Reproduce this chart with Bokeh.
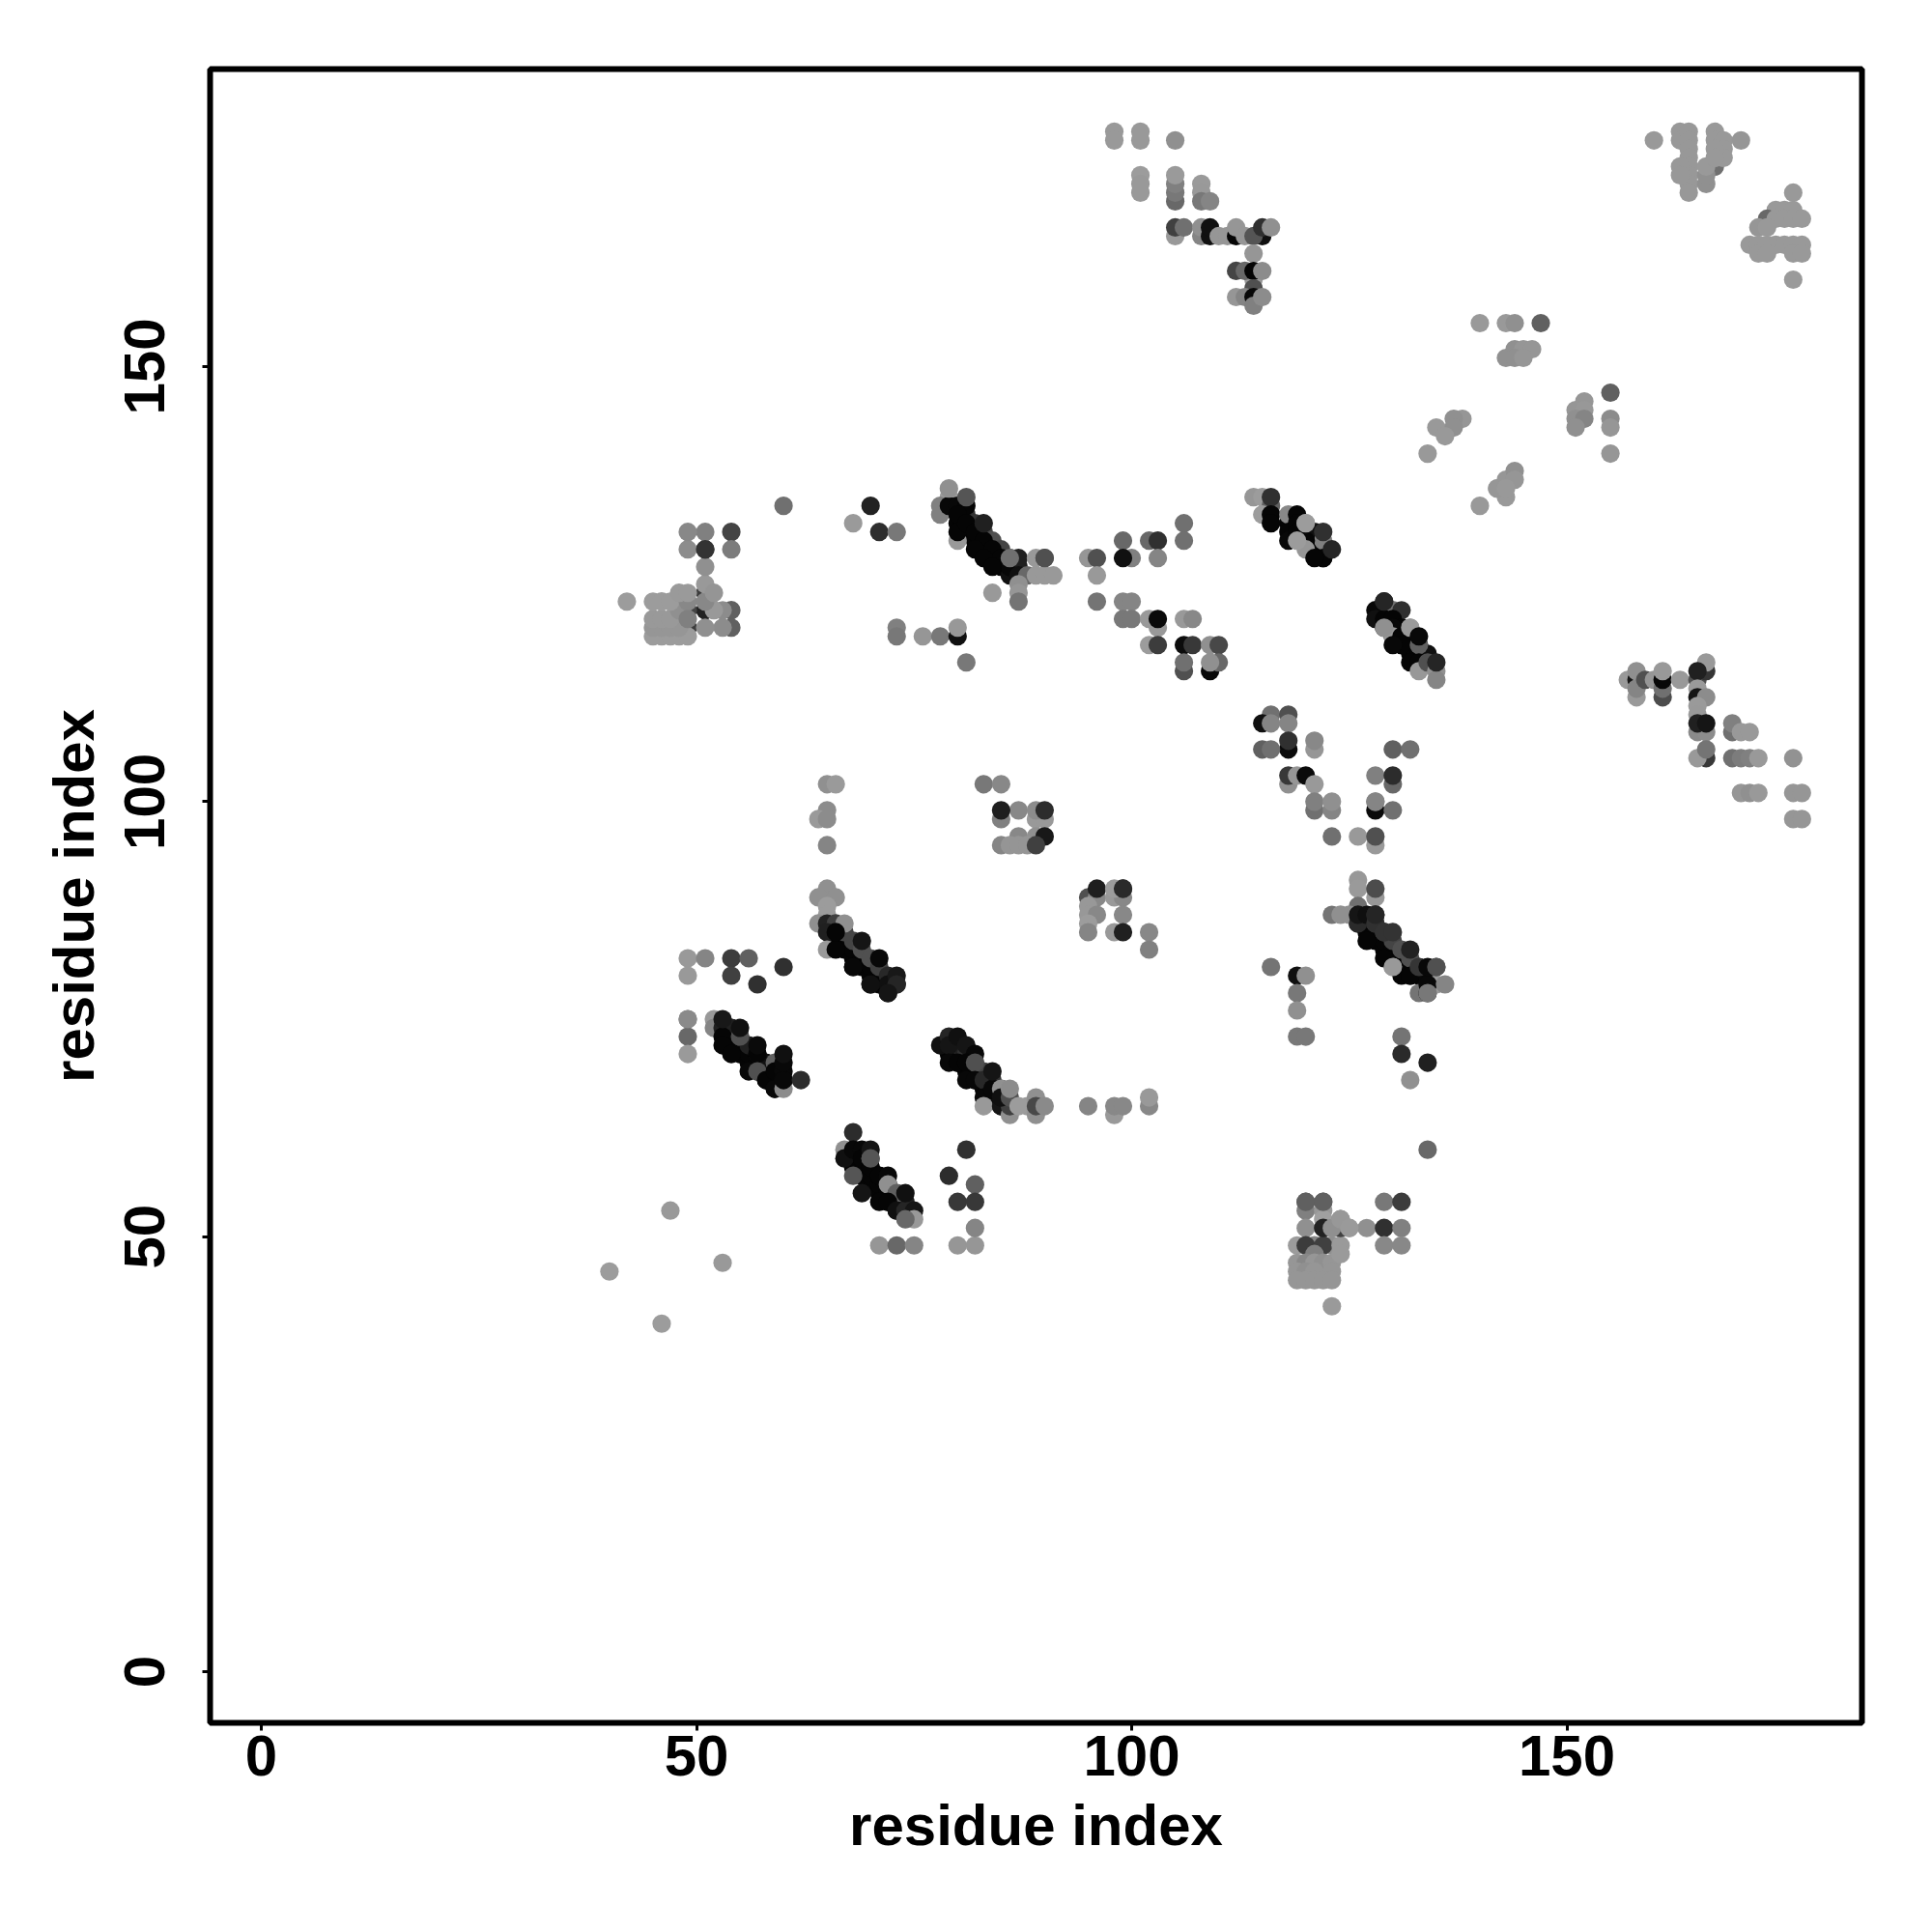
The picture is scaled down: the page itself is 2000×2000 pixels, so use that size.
from bokeh.plotting import figure
from bokeh.models import ColumnDataSource, FixedTicker, Range1d
from bokeh.embed import file_html
from bokeh.resources import INLINE

x_label = "residue index"
y_label = "residue index"
tick_values = [0, 50, 100, 150]

# Each block: residue i, residue j, grey level (0 black - 255 white), in drawing order
# Helix cores
he_x = [66,67,68,69,70,71,72, 66,67,68,69,70,71,72, 67,68,69,70,71,72,73]
he_y = [84,83,82,81,80,79,78, 85,84,83,82,81,80,79, 85,84,83,82,81,80,79]
he_g = [5,5,5,5,5,5,5, 5,5,5,5,5,5,5, 0x45,0x45,0x50,0x50,0x40,0x28,0x20]

hf_x = [54,55,56,57,58,59, 54,55,56,57,58,59, 54,55,56,57,58,59,60]
hf_y = [72,71,70,69,68,67, 73,72,71,70,69,68, 74,73,72,71,70,69,68]
hf_g = [5,5,5,5,5,5, 5,5,5,5,5,5, 0x20,0x30,0x20,0x10,0x10,0x10,0x08]

hi_x = [68,69,70,71,72,73, 68,69,70,71,72,73, 68,69,70,71,72,73,74]
hi_y = [58,57,56,55,54,53, 59,58,57,56,55,54, 60,59,58,57,56,55,54]
hi_g = [5,5,5,5,5,5, 5,5,5,5,5,5, 5,5,5,5,0x10,0x20,0x20]

hj_x = [79,80,81,82,83,84,85, 79,80,81,82,83,84,85, 80,81,82,83,84,85]
hj_y = [71,70,69,68,67,66,65, 72,71,70,69,68,67,66, 72,71,70,69,68,67]
hj_g = [5,5,5,5,5,5,5, 5,5,5,5,5,5,0x20, 0x20,0x30,0x45,0x45,0x35,0x30]

hc_x = [80,81,82,83,84,85,86, 80,81,82,83,84,85,86,87, 81,82,83,84,85,86,87]
hc_y = [132,131,130,129,128,127,126, 133,132,131,130,129,128,127,126, 133,132,131,130,129,128,127]
hc_g = [5,5,5,5,5,5,0x10, 5,5,5,5,5,5,5,5, 0x30,0x35,0x45,0x50,0x45,0x40,0x20]

hl_x = [126,127,128,129,130,131,132, 127,128,129,130,131,132,133, 127,128,129,130,131,132,133,134]
hl_y = [86,85,84,83,82,81,80, 86,85,84,83,82,81,80, 87,86,85,84,83,82,81,80]
hl_g = [5,5,5,5,5,5,5, 5,5,5,5,5,5,5, 0x15,0x40,0x35,0x45,0x50,0x50,0x40,0x08]

ho_x = [118,119,120,121,122, 119,120,121,122]
ho_y = [132,131,130,129,128, 132,131,130,129]
ho_g = [5,5,5,5,5, 5,5,5,5]

hq_x = [129,130,131,132, 130,131,132,133, 129,130,131,132,133, 134]
hq_y = [120,119,118,117, 120,119,118,117, 122,121,120,119,118, 117]
hq_g = [5,5,5,5, 5,5,5,5, 5,5,5,5,5, 0x10]

a_x = [51,51,49,49,54,54,53,53, 45,46,47,48,49, 45,46,47,48, 45,46,47, 48,52, 45,46,47, 42, 51,49,48,49,51,52,49,51,51, 51,49,51,54,49,51,54]
a_y = [122,124,122,120,122,120,122,120, 119,119,119,119,119, 120,120,120,120, 121,121,121, 122,122, 123,123,123, 123, 123,123,124,124,125,124,121,120,127, 129,129,131,131,131,129,129]
a_g = [0x22,0x3c,0x44,0x3c,0x60,0x60,0x8c,0x8c, 0x9c,0x9c,0x9c,0x9c,0x9c, 0x96,0x96,0x96,0x96, 0x99,0x99,0x99, 0x90,0x99, 0x9c,0x9c,0x9c, 0x9c, 0x88,0x88,0x9a,0x9a,0x99,0x95,0x80,0x90,0x90, 0x33,0x8c,0x80,0x44,0x88,0x33,0x7c]

b_x = [60,70,68,71,73, 73,73,76,78,80,80,81]
b_y = [134,134,132,131,131, 120,119,119,119,119,120,116]
b_g = [0x70,0x22,0x9a,0x2e,0x78, 0x80,0x78,0x96,0x78,0x10,0x98,0x78]

c_x = [80,79,78,78,79,80,81,81,80,80,81,82,83,84,85,86,82,83,84,87,86,87,88,89,90,89,90,91,84,87,87,87,83,79]
c_y = [130,135,134,133,134,134,134,135,133,131,132,131,130,129,128,127,129,128,127,128,128,126,126,128,128,126,126,126,124,125,124,123,132,136]
c_g = [0x99,0x9c,0x80,0x80,0x08,0x08,0x05,0x55,0x05,0x05,0x05,0x05,0x05,0x05,0x05,0x08,0x05,0x05,0x05,0x20,0x70,0x10,0x68,0x99,0x50,0x99,0x99,0x99,0x99,0x90,0x96,0x74,0x20,0x90]

d_x = [65,66,83,85,65,64,65,65, 85,87,89,90,85,89,90,87,89,90,85,86,87,88,89]
d_y = [102,102,102,102,99,98,98,95, 98,99,98,98,99,99,99,96,96,96,95,95,95,95,95]
d_g = [0x90,0x9a,0x78,0x88,0x8c,0x9a,0x8c,0x85, 0x80,0x88,0x99,0x99,0x1e,0x8c,0x2c,0x88,0x90,0x18,0x85,0x95,0x95,0x95,0x40]

e_x = [65,65,64,66,65,65,64,65,66,67,65,65,66,66,68,70,72,73,73,72,70,68,71,69]
e_y = [89,90,89,89,88,87,86,86,86,86,85,83,83,85,81,79,79,80,79,78,79,81,82,84]
e_g = [0x45,0x90,0x90,0x90,0x9c,0x9c,0x90,0x22,0x40,0x90,0x20,0x99,0x05,0x05,0x05,0x05,0x10,0x18,0x25,0x15,0x10,0x08,0x08,0x15]

f_x = [52,52,53,54,53,53,54,55,57,56,57,58,59,60,59,59,60,60,60,60,62,54,54,49,49,56,51,49,57,60,49,49,49]
f_y = [75,74,74,74,73,72,71,73,71,69,69,68,67,67,70,69,69,68,70,71,68,82,80,82,80,82,82,75,79,81,73,71,75]
f_g = [0x99,0x85,0x20,0x20,0x05,0x05,0x05,0x50,0x05,0x08,0x50,0x05,0x08,0x8c,0x60,0x05,0x08,0x08,0x08,0x10,0x2c,0x3c,0x40,0x99,0x99,0x60,0x85,0x8a,0x30,0x30,0x68,0x9a,0x8a]
g_x = [53,55,57]
g_y = [75,74,72]
g_g = [0x18,0x10,0x0a]

h_x = [47,53,46,40, 71,73,75,80,82,82,79,81,82,80,82]
h_y = [53,47,40,46, 49,49,49,49,49,51,57,60,56,54,54]
h_g = [0x99,0x99,0x9c,0x9c, 0x96,0x68,0x85,0x96,0x96,0x85,0x2c,0x30,0x60,0x38,0x38]

i_x = [67,67,68,68,69,69,70,70,68,69,71,72,72,73,71,72,73,74,74,75,75,74,70,70]
i_y = [60,59,62,60,60,59,59,58,57,55,57,57,56,55,54,54,53,53,55,53,52,52,60,59]
i_g = [0x90,0x10,0x2c,0x08,0x08,0x05,0x55,0x05,0x55,0x15,0x05,0x08,0x90,0x60,0x05,0x05,0x10,0x25,0x10,0x15,0x99,0x68,0x15,0x55]

j_x = [78,79,79,80,81,82,79,80,81,82,81,82,83,83,84,83,85,85,85,86,84,86,85,86,86,88,87,89,89,89,90, 95,98,98,99,102,102]
j_y = [72,73,72,73,72,71,70,70,70,70,68,68,68,66,67,65,65,66,67,64,69,65,66,66,67,65,65,66,64,65,65, 65,64,65,65,65,66]
j_g = [0x10,0x25,0x15,0x10,0x15,0x08,0x08,0x05,0x05,0x50,0x08,0x08,0x28,0x08,0x08,0x99,0x15,0x10,0x90,0x90,0x15,0x40,0x10,0x50,0x8c,0x9a,0x9c,0x90,0x90,0x48,0x8a, 0x85,0x99,0x88,0x88,0x88,0x99]

k_x = [95,96,98,99,95,95,96,99,95,95,98,99,102,102,96,99]
k_y = [89,89,89,89,88,87,87,87,86,85,85,85,85,83,90,90]
k_g = [0x50,0x88,0x99,0x88,0x98,0x98,0x88,0x88,0x9c,0x85,0x99,0x20,0x88,0x80,0x1e,0x2a]
k2_x = [98,116,119,120,119,119,119,120,131,131,134,132,134]
k2_y = [90,81,80,80,78,76,73,73,73,71,70,68,60]
k2_g = [0x9c,0x74,0x10,0x90,0x78,0x90,0x78,0x78,0x74,0x2a,0x20,0x90,0x68]
k3_x = [99]
k3_y = [90]
k3_g = [0x2a]

l_x = [126,126,128,128,126,123,124,125,126,126,127,128,127,130,129,131,132,133,134,135,130,133,134,134,136,135,134,129,128,128,129,130,132,135]
l_y = [91,90,89,90,88,87,87,87,86,87,87,87,84,81,82,80,80,78,78,79,81,81,79,78,79,81,81,85,86,87,85,85,83,81]
l_g = [0x98,0x9a,0x98,0x4c,0x70,0x74,0x90,0x90,0x2a,0x15,0x0f,0x25,0x05,0x99,0x05,0x05,0x05,0x74,0x08,0x99,0x99,0x35,0x08,0x78,0x85,0x50,0x08,0x33,0x30,0x25,0x33,0x33,0x22,0x50]

m_x = [120,122,120,122,122,124,120,123,125,119,121,123,122,124,120,121,119,120,121,122,123,119,120,121,123,119,120,121,122,123,120,122,124,124,123,124,129,131,127,129,131,129,131]
m_y = [54,54,53,53,52,52,51,51,51,49,49,49,49,49,49,48,47,47,47,47,47,46,46,46,46,45,45,45,45,45,54,54,48,52,51,51,54,54,51,51,51,49,49]
m_g = [0x60,0x60,0x80,0x98,0xa0,0x98,0x90,0x90,0x9a,0x9c,0x85,0x90,0x40,0x9a,0x3c,0x80,0x96,0x88,0x96,0x90,0x96,0x96,0x90,0x96,0x96,0x96,0x96,0x96,0x96,0x96,0x60,0x60,0x9a,0x98,0x90,0x40,0x78,0x3c,0x90,0x30,0x80,0x88,0x88]
m2_x = [122,123,124,125,123]
m2_y = [51,51,52,51,42]
m2_g = [0x22,0x90,0x98,0x9a,0x9a]

n_x = [90,95,96,99,100,99,102,103,103,106,106,96]
n_y = [128,128,128,130,128,128,130,130,128,132,130,126]
n_g = [0x50,0x96,0x50,0x68,0x80,0x10,0x68,0x30,0x85,0x70,0x70,0x99]
n2_x = [96,99,100,99,100,102,103,103,102,103,106,107,106,107,109,110,106,106,109,110,109]
n2_y = [123,123,123,121,121,121,120,121,118,118,121,121,118,118,118,118,115,116,115,116,116]
n2_g = [0x74,0x85,0x85,0x78,0x78,0x99,0x99,0x0a,0x9c,0x3c,0x99,0x88,0x0c,0x38,0x90,0x48,0x50,0x70,0x08,0x68,0x90]

o_x = [114,115,116,116,115,116,116,118,119,118,118,119,119,120,121,121,122,122,120,120,121,122,119,120,123]
o_y = [135,135,134,135,133,133,132,133,133,131,130,132,131,132,131,129,130,128,130,129,128,131,130,132,129]
o_g = [0x96,0x9c,0x60,0x30,0x9c,0x05,0x05,0x88,0x05,0x05,0x08,0x05,0x05,0x9c,0x10,0x05,0x80,0x05,0x05,0x96,0x05,0x30,0x9c,0x9c,0x25]

q_x = [128,129,130,131,128,129,130,131,132,130,130,131,131,130,129,133,132,133,133,134,135,135,135,132,133,129]
q_y = [122,123,122,122,121,121,121,120,120,120,119,119,118,118,120,118,116,116,115,116,115,114,116,120,119,123]
q_g = [0x08,0x25,0x70,0x30,0x10,0x05,0x05,0x05,0x9a,0x08,0x99,0x05,0x05,0x08,0x90,0x60,0x05,0x05,0x98,0x50,0x90,0x85,0x25,0x9a,0x08,0x25]

r_x = [116,118,115,116,118,118,118,115,116,121,121,130,132,118,118,119,120,121,121,121,123,123,123,126,128,128,128,130,128,130,128,128,130]
r_y = [110,110,109,109,109,106,107,106,106,106,107,106,106,102,103,103,103,102,99,100,99,100,96,96,95,96,99,102,103,103,100,100,99]
r_g = [0x70,0x50,0x10,0x85,0x85,0x0a,0x30,0x60,0x70,0x96,0x88,0x60,0x70,0x90,0x38,0x96,0x0a,0x99,0x70,0x80,0x85,0x90,0x70,0x99,0x99,0x50,0x0a,0x68,0x80,0x2c,0x85,0x85,0x70]

s_x = [157,158,158,158,158,159,160,161,161,161,161,163,165,166,166,165,165,165,166,165,165,165,166,165,166,166,165]
s_y = [114,114,112,113,115,114,114,112,113,114,115,114,114,115,116,115,113,112,112,111,110,108,108,109,109,105,105]
s_g = [0x99,0x15,0x99,0x85,0x90,0x50,0x96,0x4c,0x70,0x08,0x99,0x99,0x50,0x35,0x99,0x20,0x9a,0x15,0x8c,0x9a,0x99,0x8a,0x8c,0x20,0x15,0x38,0x99]
s2_x = [166,169,169,170,171,169,170,171,172,176,170,171,172,176,177,176,177]
s2_y = [106,108,109,108,108,105,105,105,105,105,101,101,101,101,101,98,98]
s2_g = [0x74,0x70,0x80,0x99,0x99,0x70,0x7c,0x80,0x99,0x92,0x96,0x90,0x99,0x96,0x96,0x96,0x96]

t_x = [98,98,101,101,105,101,101,101,105,105,105,105,108,108,108,109]
t_y = [177,176,177,176,176,172,171,170,169,170,171,172,171,170,169,169]
t_g = [0x99,0x99,0x99,0x99,0x90,0x9c,0x99,0x99,0x68,0x78,0x80,0x9a,0x9a,0x99,0x78,0x85]

u_x = [105,105,106,108,108,109,109,110,111,112,112,113,115,114,115,116,114]
u_y = [165,166,166,165,166,165,166,165,165,165,166,165,165,165,166,166,163]
u_g = [0x99,0x40,0x70,0x85,0x90,0x10,0x10,0x96,0x96,0x05,0x96,0x96,0x10,0x55,0x30,0x90,0x96]
v_x = [114,112,113,114,115,114,112,113,114,114,115]
v_y = [160,161,161,161,161,159,158,158,158,157,158]
v_g = [0x99,0x45,0x68,0x05,0x8c,0x50,0x96,0x85,0x08,0x80,0x8c]

w_x = [160,163,163,164,164,164,164,164,164,164,164,163,163,166,167,166,166,167,167,168,168,168,167,167,170]
w_y = [176,177,176,177,176,175,174,173,172,171,170,173,172,171,173,172,173,177,176,176,175,174,175,174,176]
w_g = [0x99,0x98,0x98,0x98,0x98,0x98,0x98,0x98,0x98,0x98,0x98,0x98,0x98,0x90,0x70,0x90,0x99,0x99,0x99,0x99,0x99,0x99,0x99,0x99,0x96]

y_x = [176,174,175,176,173,174,175,176,177,172,173,171,172,173,174,175,176,177,172,173,176,177,176]
y_y = [170,168,168,168,167,167,167,167,167,166,166,164,164,164,164,164,164,164,163,163,163,163,160]
y_g = [0x99,0x99,0x99,0x99,0x68,0x99,0x99,0x99,0x99,0x96,0x99,0x99,0x99,0x99,0x99,0x99,0x99,0x99,0x99,0x99,0x99,0x99,0x9a]

z_x = [140,143,144,147,144,145,146,143,144,145,138,137,135,137,136,134,152,151,152,151,152,151,155,155,155,155,140,143,142,143,144,144,142,143]
z_y = [155,155,155,155,152,152,152,151,151,151,144,144,143,143,142,140,146,145,145,144,144,143,147,144,143,140,134,135,136,137,138,137,136,136]
z_g = [0x99,0x99,0x90,0x60,0x90,0x96,0x96,0x90,0x90,0x96,0x96,0x90,0x99,0x90,0x99,0x99,0x96,0x96,0x98,0x90,0x85,0x90,0x60,0x8c,0x96,0x96,0x99,0x99,0x99,0x96,0x90,0x96,0x96,0x99]

blocks = [(he_x,he_y,he_g),(hf_x,hf_y,hf_g),(hi_x,hi_y,hi_g),(hj_x,hj_y,hj_g),(hc_x,hc_y,hc_g),(hl_x,hl_y,hl_g),
          (ho_x,ho_y,ho_g),(hq_x,hq_y,hq_g),
          (a_x,a_y,a_g),(b_x,b_y,b_g),(c_x,c_y,c_g),(d_x,d_y,d_g),(e_x,e_y,e_g),(f_x,f_y,f_g),(g_x,g_y,g_g),
          (h_x,h_y,h_g),(i_x,i_y,i_g),(j_x,j_y,j_g),(k_x,k_y,k_g),(k2_x,k2_y,k2_g),(k3_x,k3_y,k3_g),(l_x,l_y,l_g),
          (m_x,m_y,m_g),(m2_x,m2_y,m2_g),(n_x,n_y,n_g),(n2_x,n2_y,n2_g),(o_x,o_y,o_g),(q_x,q_y,q_g),(r_x,r_y,r_g),
          (s_x,s_y,s_g),(s2_x,s2_y,s2_g),(t_x,t_y,t_g),(u_x,u_y,u_g),(v_x,v_y,v_g),(w_x,w_y,w_g),(y_x,y_y,y_g),(z_x,z_y,z_g)]

xs, ys, cs = [], [], []
for bx, by, bg in blocks:
    xs += bx; ys += by
    cs += ["#%02x%02x%02x" % (g, g, g) for g in bg]
source = ColumnDataSource(dict(x=xs, y=ys, color=cs))

p = figure(width=1984, height=1984, output_backend="svg", toolbar_location=None,
           x_range=Range1d(-5.88, 183.9), y_range=Range1d(-5.88, 184.2),
           min_border_left=217, min_border_right=57, min_border_top=71, min_border_bottom=201,
           background_fill_color="white", border_fill_color="white")
p.scatter("x", "y", source=source, size=19.2, color="color", line_color=None, marker="circle")

p.grid.visible = False
p.outline_line_color = "black"
p.outline_line_width = 6
for ax in (p.xaxis[0], p.yaxis[0]):
    ax.ticker = FixedTicker(ticks=tick_values)
    ax.axis_line_color = None
    ax.major_tick_line_color = "black"
    ax.major_tick_line_width = 3
    ax.major_tick_in = 0
    ax.major_tick_out = 8
    ax.minor_tick_line_color = None
    ax.major_label_text_font = "Liberation Sans"
    ax.major_label_text_font_style = "bold"
    ax.major_label_text_font_size = "60px"
    ax.major_label_text_color = "black"
    ax.axis_label_text_font = "Liberation Sans"
    ax.axis_label_text_font_style = "bold"
    ax.axis_label_text_font_size = "60px"
    ax.axis_label_text_color = "black"
p.xaxis[0].axis_label = x_label
p.yaxis[0].axis_label = y_label
p.xaxis[0].major_label_standoff = 5
p.yaxis[0].major_label_standoff = 39
p.xaxis[0].axis_label_standoff = 15
p.yaxis[0].axis_label_standoff = 17
p.yaxis[0].major_label_orientation = "vertical"

open("out.html", "w").write(file_html(p, INLINE))
